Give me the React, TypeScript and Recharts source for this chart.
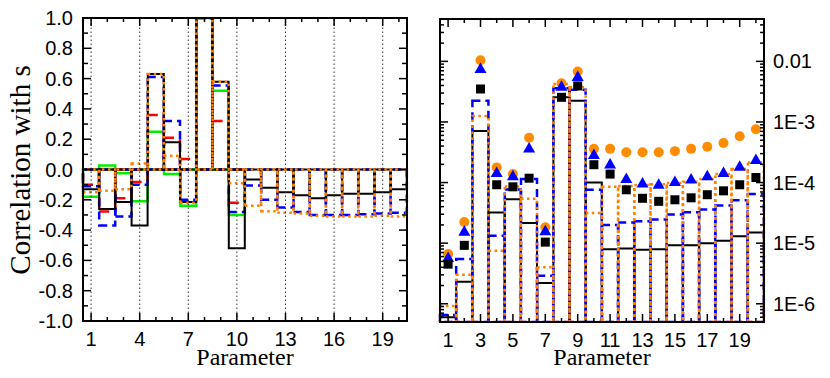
import React from "react";
import { ComposedChart, Bar, Line, XAxis, YAxis, ReferenceLine } from "recharts";

const params = [1, 2, 3, 4, 5, 6, 7, 8, 9, 10, 11, 12, 13, 14, 15, 16, 17, 18, 19, 20];

// left panel: correlation with s
const corrBlack = [-0.13, -0.26, -0.215, -0.37, 0.63, 0.18, -0.215, 1.0, 0.58, -0.52, -0.066, -0.12, -0.15, -0.17, -0.19, -0.17, -0.16, -0.16, -0.15, -0.13];
const corrGreen = [-0.18, 0.026, -0.024, -0.21, 0.25, -0.03, -0.24, 1.0, 0.52, -0.3, null, null, null, null, null, null, null, null, null, null];
const corrRed = [-0.1, -0.277, -0.19, -0.083, 0.36, 0.21, 0.07, 1.0, 0.32, -0.22, null, null, null, null, null, null, null, null, null, null];
const corrBlue = [-0.11, -0.37, -0.31, -0.1, 0.61, 0.32, -0.2, 1.0, 0.555, -0.28, -0.105, -0.2, -0.25, -0.28, -0.3, -0.3, -0.3, -0.295, -0.29, -0.285];
const corrOrange = [-0.15, -0.14, -0.13, 0.04, 0.63, 0.09, -0.22, 1.0, 0.58, -0.09, -0.24, -0.275, -0.285, -0.29, -0.305, -0.31, -0.31, -0.31, -0.305, -0.31];

// right panel: log values
const boxBlack = [6.0e-7, 2.3e-6, 7.1e-4, 3.2e-5, 5.3e-5, 2.16e-5, 2.2e-6, 2.55e-3, 2.24e-3, 1.0e-4, 7.9e-6, 8.2e-6, 7.8e-6, 7.9e-6, 9.2e-6, 9.2e-6, 1.0e-5, 1.1e-5, 1.3e-5, 1.5e-5];
const boxBlue = [6.5e-7, 5.5e-6, 2.24e-3, 1.33e-5, 7.7e-5, 1.14e-4, 2.9e-6, 3.6e-3, 3.4e-3, 7.6e-5, 2.0e-5, 2.2e-5, 2.3e-5, 2.45e-5, 2.97e-5, 3.25e-5, 3.6e-5, 4.2e-5, 5.1e-5, 6.5e-5];
const boxOrange = [9.2e-7, 3.0e-6, 1.26e-3, 7.5e-6, 8.6e-5, 5.4e-5, 4.0e-6, 4.25e-3, 3.74e-3, 3.16e-5, 8.5e-5, 8.8e-5, 9.1e-5, 9.4e-5, 9.8e-5, 1.03e-4, 1.14e-4, 1.38e-4, 1.67e-4, 2.15e-4];
const ptCircle = [6.6e-6, 2.24e-5, 1.04e-2, 1.78e-4, 1.38e-4, 5.5e-4, 1.83e-5, 4.36e-3, 6.8e-3, 3.6e-4, 3.6e-4, 3.16e-4, 3.16e-4, 3.16e-4, 3.3e-4, 3.6e-4, 3.9e-4, 4.5e-4, 5.8e-4, 7.6e-4];
const ptTriangle = [5.8e-6, 1.57e-5, 7.6e-3, 1.47e-4, 1.29e-4, 3.7e-4, 1.6e-5, 3.9e-3, 5.6e-3, 2.9e-4, 2.03e-4, 1.17e-4, 9.8e-5, 9.4e-5, 1.04e-4, 1.14e-4, 1.29e-4, 1.47e-4, 1.85e-4, 2.4e-4];
const ptSquare = [4.5e-6, 9.2e-6, 3.5e-3, 9.2e-5, 8.5e-5, 1.18e-4, 1.04e-5, 2.55e-3, 3.93e-3, 1.97e-4, 1.38e-4, 7.6e-5, 5.5e-5, 4.9e-5, 5.2e-5, 5.6e-5, 6.3e-5, 7.3e-5, 9.2e-5, 1.21e-4];

const leftXLabels = [1, 4, 7, 10, 13, 16, 19];
const leftYTicks = [-1, -0.9, -0.8, -0.7, -0.6, -0.5, -0.4, -0.3, -0.2, -0.1, 0, 0.1, 0.2, 0.3, 0.4, 0.5, 0.6, 0.7, 0.8, 0.9, 1];
const rightXLabels = [1, 3, 5, 7, 9, 11, 13, 15, 17, 19];
const rightDecades = [1e-6, 1e-5, 1e-4, 1e-3, 1e-2];
const rightDecadeLabels = ["1E-6", "1E-5", "1E-4", "1E-3", "0.01"];
const logDomain = [5e-7, 0.05];

const rightYTicks: number[] = [];
[1e-7, 1e-6, 1e-5, 1e-4, 1e-3, 1e-2].forEach((d) => {
  for (let m = 1; m <= 9; m++) {
    const v = m * d;
    if (v >= logDomain[0] * 0.999 && v <= logDomain[1] * 1.001) rightYTicks.push(v);
  }
});

const SANS = "'Liberation Sans', Arial, sans-serif";
const SERIF = "'Liberation Serif', 'Times New Roman', serif";
const ORANGE = "#ff8000";

const leftData = params.map((p, i) => ({
  p,
  black: corrBlack[i],
  green: corrGreen[i],
  red: corrRed[i],
  blue: corrBlue[i],
  orange: corrOrange[i],
}));

const rightData = params.map((p, i) => ({
  p,
  black: boxBlack[i],
  blue: boxBlue[i],
  orange: boxOrange[i],
  circle: ptCircle[i],
  triangle: ptTriangle[i],
  square: ptSquare[i],
}));

const tickLine = { stroke: "#000", strokeWidth: 1.5 };

// plot edges (in each chart's own coordinates)
const LEFT_BOTTOM = 321;
const LEFT_TOP = 18;
const RIGHT_BOTTOM = 322;
const RIGHT_TOP = 19;

function xTick(labels: number[], top: number, bottom: number) {
  return (props: any) => {
    const { x, payload } = props;
    const major = labels.includes(payload.value);
    const len = major ? 8 : 4;
    return (
      <g>
        <line x1={x} x2={x} y1={bottom} y2={bottom - len} {...tickLine} />
        <line x1={x} x2={x} y1={top} y2={top + len} {...tickLine} />
        {major && (
          <text x={x} y={bottom + 25} textAnchor="middle" fontSize={20} fontFamily={SANS} fill="#000">
            {payload.value}
          </text>
        )}
      </g>
    );
  };
}

function leftYTick(side: "left" | "right") {
  return (props: any) => {
    const { x, y, payload } = props;
    const v = payload.value;
    const major = Math.round(Math.abs(v) * 10) % 2 === 0;
    const len = major ? 8 : 5;
    const dir = side === "left" ? 1 : -1;
    return (
      <g>
        <line x1={x} x2={x + dir * len} y1={y} y2={y} {...tickLine} />
        {side === "left" && major && (
          <text x={x - 10} y={y + 7} textAnchor="end" fontSize={20} fontFamily={SANS} fill="#000">
            {v.toFixed(1)}
          </text>
        )}
      </g>
    );
  };
}

function logYTick(side: "left" | "right") {
  return (props: any) => {
    const { x, y, payload } = props;
    const v = payload.value;
    const lg = Math.log10(v);
    const idx = rightDecades.findIndex((d) => Math.abs(Math.log10(d) - lg) < 1e-6);
    const major = idx >= 0;
    const len = major ? 8 : 4;
    const dir = side === "left" ? 1 : -1;
    return (
      <g>
        <line x1={x} x2={x + dir * len} y1={y} y2={y} {...tickLine} />
        {side === "right" && major && (
          <text x={x + 9} y={y + 7} textAnchor="start" fontSize={20} fontFamily={SANS} fill="#000">
            {rightDecadeLabels[idx]}
          </text>
        )}
      </g>
    );
  };
}

const circleDot = (props: any) => {
  const { cx, cy, index } = props;
  if (cx == null || cy == null) return <g key={`c${index}`} />;
  return <circle key={`c${index}`} cx={cx} cy={cy} r={5} fill="#ff8c00" />;
};
const triangleDot = (props: any) => {
  const { cx, cy, index } = props;
  if (cx == null || cy == null) return <g key={`t${index}`} />;
  return <polygon key={`t${index}`} points={`${cx},${cy - 6} ${cx - 6},${cy + 4.5} ${cx + 6},${cy + 4.5}`} fill="#0000ff" />;
};
const squareDot = (props: any) => {
  const { cx, cy, index } = props;
  if (cx == null || cy == null) return <g key={`s${index}`} />;
  return <rect key={`s${index}`} x={cx - 4.5} y={cy - 4.5} width={9} height={9} fill="#000" />;
};

function LeftPanel() {
  return (
    <ComposedChart
      width={415}
      height={378}
      data={leftData}
      margin={{ top: 18, right: 0, bottom: 27, left: 43 }}
      barCategoryGap={0}
      barGap={0}
    >
      <XAxis xAxisId="main" dataKey="p" height={30} axisLine={false} tickLine={false} tickSize={0} tickMargin={0} interval={0} tick={xTick(leftXLabels, LEFT_TOP, LEFT_BOTTOM)} />
      <XAxis xAxisId="g" dataKey="p" hide height={0} />
      <XAxis xAxisId="r" dataKey="p" hide height={0} />
      <XAxis xAxisId="b" dataKey="p" hide height={0} />
      <XAxis xAxisId="o" dataKey="p" hide height={0} />
      <YAxis yAxisId="l" type="number" domain={[-1, 1]} ticks={leftYTicks} interval={0} allowDataOverflow width={40} axisLine={false} tickLine={false} tickSize={0} tickMargin={0} tick={leftYTick("left")} />
      <YAxis yAxisId="rr" orientation="right" type="number" domain={[-1, 1]} ticks={leftYTicks} interval={0} allowDataOverflow width={8} axisLine={false} tickLine={false} tickSize={0} tickMargin={0} tick={leftYTick("right")} />
      {leftXLabels.map((v) => (
        <ReferenceLine key={v} x={v} xAxisId="main" yAxisId="l" stroke="#333" strokeWidth={1} strokeDasharray="1.5 2.5" />
      ))}
      <Bar dataKey="green" xAxisId="g" yAxisId="l" fill="none" stroke="#00ee00" strokeWidth={2.5} isAnimationActive={false} />
      <Bar dataKey="red" xAxisId="r" yAxisId="l" fill="none" stroke="#ff0000" strokeWidth={2.5} strokeDasharray="10 7" isAnimationActive={false} />
      <Bar dataKey="blue" xAxisId="b" yAxisId="l" fill="none" stroke="#0000ff" strokeWidth={2.5} strokeDasharray="8 5" isAnimationActive={false} />
      <Bar dataKey="black" xAxisId="main" yAxisId="l" fill="none" stroke="#000" strokeWidth={2} isAnimationActive={false} />
      <Bar dataKey="orange" xAxisId="o" yAxisId="l" fill="none" stroke={ORANGE} strokeWidth={2.5} strokeDasharray="2.5 3.5" isAnimationActive={false} />
    </ComposedChart>
  );
}

function RightPanel() {
  return (
    <ComposedChart
      width={415}
      height={378}
      data={rightData}
      margin={{ top: 19, right: 6, bottom: 26, left: 15 }}
      barCategoryGap={0}
      barGap={0}
    >
      <XAxis xAxisId="main" dataKey="p" height={30} axisLine={false} tickLine={false} tickSize={0} tickMargin={0} interval={0} tick={xTick(rightXLabels, RIGHT_TOP, RIGHT_BOTTOM)} />
      <XAxis xAxisId="b" dataKey="p" hide height={0} />
      <XAxis xAxisId="o" dataKey="p" hide height={0} />
      <YAxis yAxisId="l" type="number" scale="log" domain={logDomain} ticks={rightYTicks} interval={0} allowDataOverflow width={10} axisLine={false} tickLine={false} tickSize={0} tickMargin={0} tick={logYTick("left")} />
      <YAxis yAxisId="rr" orientation="right" type="number" scale="log" domain={logDomain} ticks={rightYTicks} interval={0} allowDataOverflow width={60} axisLine={false} tickLine={false} tickSize={0} tickMargin={0} tick={logYTick("right")} />
      <Bar dataKey="black" xAxisId="main" yAxisId="l" fill="none" stroke="#000" strokeWidth={2} isAnimationActive={false} />
      <Bar dataKey="blue" xAxisId="b" yAxisId="l" fill="none" stroke="#0000ff" strokeWidth={2.5} strokeDasharray="8 5" isAnimationActive={false} />
      <Bar dataKey="orange" xAxisId="o" yAxisId="l" fill="none" stroke={ORANGE} strokeWidth={2.5} strokeDasharray="2.5 3.5" isAnimationActive={false} />
      <Line dataKey="circle" xAxisId="main" yAxisId="l" stroke="none" dot={circleDot} activeDot={false} isAnimationActive={false} />
      <Line dataKey="triangle" xAxisId="main" yAxisId="l" stroke="none" dot={triangleDot} activeDot={false} isAnimationActive={false} />
      <Line dataKey="square" xAxisId="main" yAxisId="l" stroke="none" dot={squareDot} activeDot={false} isAnimationActive={false} />
    </ComposedChart>
  );
}

export default function App() {
  return (
    <div style={{ position: "absolute", left: 0, top: 0, width: 830, height: 378, background: "#fff" }}>
      <div style={{ position: "absolute", left: 0, top: 0 }}>
        <LeftPanel />
      </div>
      <div style={{ position: "absolute", left: 415, top: 0 }}>
        <RightPanel />
      </div>
      <svg width={830} height={378} style={{ position: "absolute", left: 0, top: 0, pointerEvents: "none" }}>
        <rect x={83} y={18} width={324} height={303} fill="none" stroke="#000" strokeWidth={2} />
        <rect x={440} y={19} width={324} height={303} fill="none" stroke="#000" strokeWidth={2} />
        <text x={245} y={365} textAnchor="middle" fontSize={24} fontFamily={SERIF} fill="#000">Parameter</text>
        <text x={602} y={365} textAnchor="middle" fontSize={24} fontFamily={SERIF} fill="#000">Parameter</text>
        <text transform="translate(30,170) rotate(-90)" textAnchor="middle" fontSize={29} fontFamily={SERIF} fill="#000">Correlation with s</text>
      </svg>
    </div>
  );
}
